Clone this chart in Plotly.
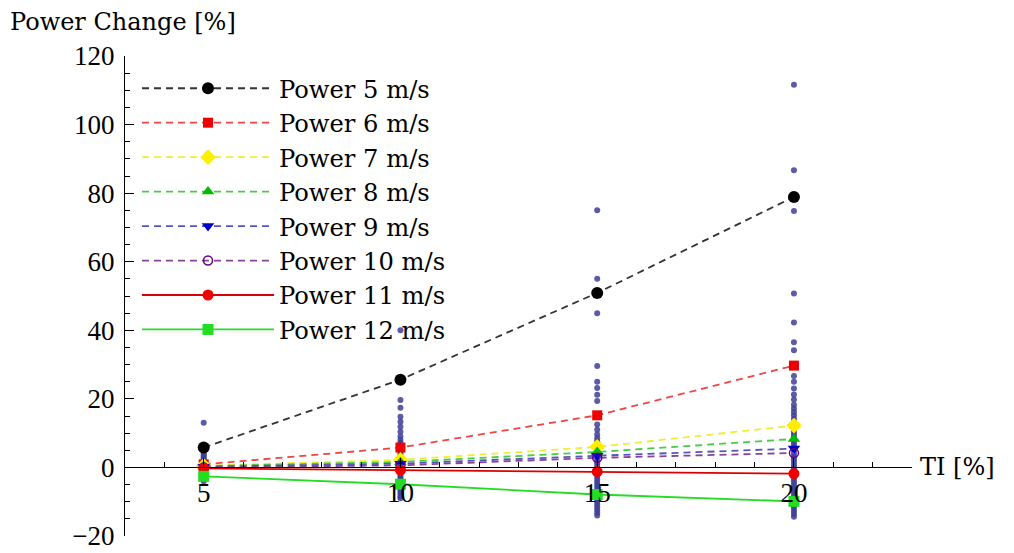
import plotly.graph_objects as go

# Turbulence intensity levels [%]
ti = [5, 10, 15, 20]

# Mean power change [%] per wind speed
power_5 = [5.8, 25.6, 50.9, 78.9]
power_6 = [0.9, 5.8, 15.2, 29.7]
power_7 = [0.5, 2.2, 6.0, 12.2]
power_8 = [0.4, 1.6, 4.5, 8.3]
power_9 = [0.2, 1.1, 3.4, 5.5]
power_10 = [0.0, 0.6, 2.8, 4.2]
power_11 = [-0.3, -0.8, -1.2, -1.8]
power_12 = [-2.6, -4.9, -7.9, -9.9]

# Individual samples behind the means, per TI level
spread_5 = [13, 6, 5.5, 5, 4.5, 4, 3.5, 3, 2.5, 2, 1.5, 1, 0.5, 0, -0.5, -1,
            -1.5, -2, -2.5, -3, -3.5, -4]
spread_10 = [40, 19.7, 17.4, 14.8, 13.3, 11.9, 10.4, 9, 8, 7.2, 6.5, 5.8, 5,
             4.3, 3.6, 3, 2.3, 1.6, 1, 0.3, -0.4, -1, -1.7, -2.4, -3, -3.7,
             -4.4, -5, -5.7, -6.4, -7, -7.7, -8.4, -9]
spread_15 = [75, 55, 45, 29.6, 25, 23.2, 21.2, 19.4, 12.5, 11, 9.6, 8.5, 7.6,
             6.8, 6, 5.2, 4.4, 3.6, 2.8, 2, 1.2, 0.4, -0.4, -1.2, -2, -2.8,
             -3.6, -4.4, -5.2, -6, -6.8, -7.6, -8.4, -9.2, -10, -10.8, -11.6,
             -12.4, -13.2, -14]
spread_20 = [111.6, 86.7, 74.8, 50.7, 42.3, 36.5, 34.2, 26.7, 25, 23, 21.3,
             19.8, 18.3, 17.2, 16.2, 15.2, 14.2, 13.2, 12.2, 11.2, 10.4, 9.6,
             8.8, 8, 7.2, 6.4, 5.6, 4.8, 4, 3.2, 2.4, 1.6, 0.8, 0, -0.8, -1.6,
             -2.4, -3.2, -4, -4.8, -5.6, -6.4, -7.2, -8, -8.8, -9.6, -10.4,
             -11.2, -12, -12.8, -13.6, -14.4]

series = [
    ("Power 5 m/s", power_5, "#333333", "dash", "circle", "#000000", 12),
    ("Power 6 m/s", power_6, "#ee4444", "dash", "square", "#ee0000", 10),
    ("Power 7 m/s", power_7, "#eeee33", "dash", "diamond", "#ffee00", 12),
    ("Power 8 m/s", power_8, "#44cc44", "dash", "triangle-up", "#00bb00", 11),
    ("Power 9 m/s", power_9, "#5555bb", "dash", "triangle-down", "#0000cc", 11),
    ("Power 10 m/s", power_10, "#884499", "dash", "circle-open", "#660088", 9),
    ("Power 11 m/s", power_11, "#dd0000", "solid", "circle", "#ee0000", 11),
    ("Power 12 m/s", power_12, "#22dd22", "solid", "square", "#22dd22", 11),
]

TICK_FONT = "Liberation Serif"
TEXT_FONT = "DejaVu Serif"

fig = go.Figure()

# Scatter of individual samples
sx, sy = [], []
for t, vals in zip(ti, [spread_5, spread_10, spread_15, spread_20]):
    sx += [t] * len(vals)
    sy += vals
fig.add_trace(go.Scatter(
    x=sx, y=sy, mode="markers", showlegend=False, hoverinfo="skip",
    marker=dict(size=6, color="rgba(62,62,150,0.85)", line=dict(width=0)),
))

for name, vals, lc, dash, sym, mc, ms in series:
    fig.add_trace(go.Scatter(
        x=ti, y=vals, name=name, mode="lines+markers",
        line=dict(color=lc, width=1.8,
                  dash="7px,5px" if dash == "dash" else "solid"),
        marker=dict(symbol=sym, size=ms, color=mc,
                    line=dict(width=1.5 if sym.endswith("open") else 0,
                              color=mc)),
    ))

fig.update_layout(
    width=1014, height=553,
    margin=dict(l=125, r=102, t=56, b=17, autoexpand=False),
    paper_bgcolor="white", plot_bgcolor="white",
    font=dict(family=TICK_FONT, size=27, color="black"),
    showlegend=True,
    legend=dict(
        x=(137 - 125) / 787, y=(536 - 66) / 480,
        xanchor="left", yanchor="top",
        bgcolor="rgba(0,0,0,0)", borderwidth=0,
        itemwidth=132, tracegroupgap=0,
        font=dict(family=TEXT_FONT, size=24.2, color="black"),
    ),
    xaxis=dict(
        range=[3, 23], anchor="free", position=20 / 140, automargin=False,
        showline=True, linecolor="black", linewidth=1.3,
        showgrid=False, zeroline=False,
        tickmode="array", tickvals=[5, 10, 15, 20],
        ticks="inside", ticklen=9, tickwidth=1.3, tickcolor="black",
        ticklabelstandoff=1,
        minor=dict(tickmode="linear", tick0=0, dtick=1, ticks="inside",
                   ticklen=5, tickwidth=1.2, tickcolor="black"),
        tickfont=dict(family=TICK_FONT, size=27),
    ),
    yaxis=dict(
        range=[-20, 120], automargin=False,
        showline=True, linecolor="black", linewidth=1.3,
        showgrid=False, zeroline=False, dtick=20, tick0=0,
        ticks="inside", ticklen=9, tickwidth=1.3, tickcolor="black",
        ticklabelstandoff=4,
        minor=dict(dtick=5, ticks="inside", ticklen=5, tickwidth=1.2,
                   tickcolor="black"),
        tickfont=dict(family=TICK_FONT, size=27),
    ),
)

fig.add_annotation(text="Power Change [%]", xref="paper", yref="paper",
                   x=(8 - 125) / 787, y=(536 - 22) / 480,
                   xanchor="left", yanchor="middle",
                   showarrow=False, font=dict(family=TEXT_FONT, size=24))
fig.add_annotation(text="TI [%]", xref="paper", yref="y",
                   x=(918 - 125) / 787, y=0, xanchor="left", yanchor="middle",
                   showarrow=False, font=dict(family=TEXT_FONT, size=24))

fig.write_html("out.html")
